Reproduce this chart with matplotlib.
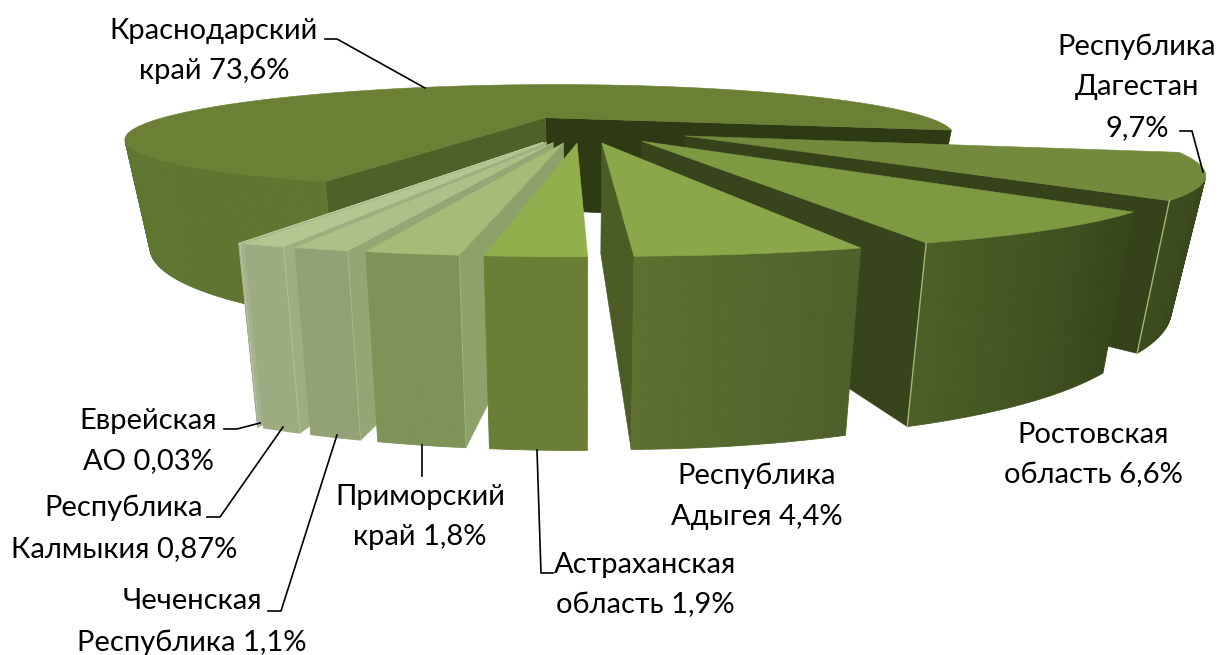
import numpy as np
import matplotlib
matplotlib.use("Agg")
import matplotlib.pyplot as plt
from matplotlib.colors import to_rgb

plt.rcParams['font.family'] = ['Lato', 'Open Sans', 'DejaVu Sans']

# counter-clockwise on the page, starting with the big slice
regions = ["Краснодарский\nкрай 73,6%", "Еврейская\nАО 0,03%", "Республика\nКалмыкия 0,87%",
           "Чеченская\nРеспублика 1,1%", "Приморский\nкрай 1,8%", "Астраханская\nобласть 1,9%",
           "Республика\nАдыгея 4,4%", "Ростовская\nобласть 6,6%", "Республика\nДагестан\n9,7%"]
shares = [73.6, 0.03, 0.87, 1.1, 1.8, 1.9, 4.4, 6.6, 9.7]

# top, low-angle face, high-angle face, wall start, wall end
colours = [
    ("#6b7f35", "#2e3a14", "#4f6128", "#5f7630", "#5f7630"),
    ("#bdcb9f", "#a6b28c", "#a6b28c", "#a3ac92", "#a3ac92"),
    ("#b5c691", "#9fae80", "#9fae80", "#9cab80", "#9cab80"),
    ("#aec088", "#93a674", "#93a674", "#92a274", "#92a274"),
    ("#a6bb78", "#8da26a", "#8da26a", "#7f9359", "#7f9359"),
    ("#92af4d", "#73883a", "#73883a", "#6a7f35", "#6a7f35"),
    ("#8aa84a", "#4b5c25", "#4b5c25", "#5c7030", "#4e602a"),
    ("#7d9a42", "#37441c", "#37441c", "#4b5f26", "#37451b"),
    ("#738a3c", "#36431a", "#36431a", "#3c4c1d", "#34411a"),
]
draw_order = [0, 8, 7, 1, 2, 3, 4, 5, 6]

labels_at = [(214, 51), (148, 441), (124, 528), (192, 622), (420, 517), (645, 585), (757, 496), (1093, 455), (1137, 87)]
leaders = [
    [(325, 39), (337, 39), (425, 88)],
    [(224, 429), (237, 429), (260, 423)],
    [(207, 517), (220, 517), (283, 427)],
    [(268, 611), (281, 611), (337, 435)],
    [(422, 445), (422, 476)],
    [(537, 450), (541, 573), (553, 573)],
    [],
    [],
    [(1180, 131), (1192, 131), (1203, 172)],
]

# camera model fitted by eye
cx, cy = 582, 128.5
sx, sy = 418, 53
persp_x = 0.417
persp_y = 0.387
thick = 100
lean = 0.055
explode = 0.25
start = 75.5
nudges = [0.022, 0, 0, 0, 0, 0, 0.004, 0.01, 0.02]


def project(X, Y, z):
    s = 1 / (1 - persp_y * Y)
    px = cx + sx * X / (1 - persp_x * Y)
    py = cy + s * (sy * Y + thick * z)
    px = cx + (px - cx) * (1 - lean * z)
    return px, py


def area(pts):
    p = np.array(pts)
    q = np.roll(p, -1, axis=0)
    return np.sum(p[:, 0] * q[:, 1] - q[:, 0] * p[:, 1]) / 2


def mix(a, b, t):
    a, b = np.array(to_rgb(a)), np.array(to_rgb(b))
    return tuple(a + (b - a) * t)


fig = plt.figure(figsize=(12.18, 6.55), dpi=100)
ax = fig.add_axes([0, 0, 1, 1])
ax.set_xlim(0, 1218)
ax.set_ylim(655, 0)
ax.axis("off")

spans = np.array(shares) / sum(shares) * 360
ends = start + np.cumsum(spans)
begins = ends - spans


def draw_slice(i):
    a0, a1 = np.radians(begins[i]), np.radians(ends[i])
    mid = (a0 + a1) / 2
    ox, oy = explode * np.sin(mid) + nudges[i], explode * np.cos(mid)
    top_col, low_col, high_col, wall_a, wall_b = colours[i]
    tip_t = project(ox, oy, 0)
    tip_b = project(ox, oy, 1)

    def rim(t, z):
        return project(ox + np.sin(t), oy + np.cos(t), z)

    low = [tip_t, rim(a0, 0), rim(a0, 1), tip_b]
    high = [tip_t, rim(a1, 0), rim(a1, 1), tip_b]
    if area(low) > 0:
        ax.fill(*zip(*low), color=low_col, lw=0.4)
    if area(high) < 0:
        ax.fill(*zip(*high), color=high_col, lw=0.4)

    n = max(3, int(spans[i] * 1.5))
    ts = np.linspace(a0, a1, n + 1)
    for k in range(n):
        quad = [rim(ts[k], 0), rim(ts[k + 1], 0), rim(ts[k + 1], 1), rim(ts[k], 1)]
        if area(quad) > 0:
            ax.fill(*zip(*quad), color=mix(wall_a, wall_b, k / n), lw=0.6)

    top = [tip_t] + [rim(t, 0) for t in ts]
    ax.fill(*zip(*top), color=top_col, lw=0.4)

    # pale seams down the slice corners
    if i in (7, 8):
        p, q = rim(a0, 0), rim(a0, 1)
        ax.plot([p[0], q[0]], [p[1], q[1]], color="#a3b577", lw=1)
    if i in (1, 2, 3, 4):
        p, q = rim(a1, 0), rim(a1, 1)
        ax.plot([p[0], q[0]], [p[1], q[1]], color=top_col, lw=0.6)


for i in draw_order:
    draw_slice(i)

for name, (lx, ly), line in zip(regions, labels_at, leaders):
    ax.text(lx, ly, name, ha="center", va="center", fontsize=21, color="black", linespacing=1.7)
    if line:
        ax.plot(*zip(*line), color="black", lw=1.2)

fig.savefig("out.png", dpi=100)
